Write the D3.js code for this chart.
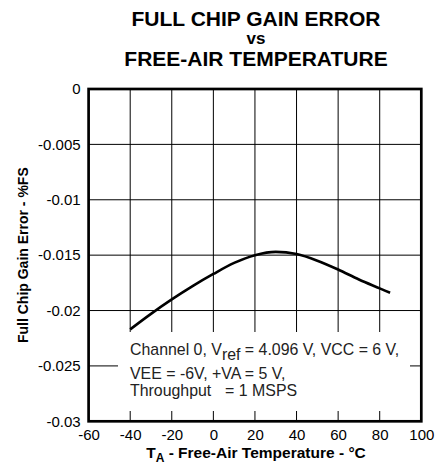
<!DOCTYPE html>
<html>
<head>
<meta charset="utf-8">
<script src="https://cdn.jsdelivr.net/npm/d3@7"></script>
<style>
  html, body { margin: 0; padding: 0; background: #fff; }
  svg { display: block; font-family: "Liberation Sans", Arial, Helvetica, sans-serif; }
  .note { white-space: pre; }
</style>
</head>
<body>
<svg id="chart" width="444" height="464"></svg>
<script>
// Gain error of the full chip (%FS) versus free-air temperature (°C)
const temperatures = [-40, -30, -20, -10, 0, 10, 20, 30, 40, 50, 60, 70, 80, 85];
const gainError = [-0.0217, -0.0203, -0.0190, -0.0178, -0.0167, -0.0157, -0.0150, -0.0147,
                   -0.0149, -0.0155, -0.0163, -0.0172, -0.0180, -0.0184];

const xTicks = [-60, -40, -20, 0, 20, 40, 60, 80, 100];
const xTickLabels = ["-60", "-40", "-20", "0", "20", "40", "60", "80", "100"];
const yTicks = [0, -0.005, -0.01, -0.015, -0.02, -0.025, -0.03];
const yTickLabels = ["0", "-0.005", "-0.01", "-0.015", "-0.02", "-0.025", "-0.03"];

const titleLines = ["FULL CHIP GAIN ERROR", "vs", "FREE-AIR TEMPERATURE"];
const noteLines = [
  [{ t: "Channel 0, V" }, { t: "ref", sub: true }, { t: " = 4.096 V, VCC = 6 V," }],
  [{ t: "VEE = -6V, +VA = 5 V," }],
  [{ t: "Throughput" }, { t: "  = 1 MSPS", gap: 5 }]
];

const svg = d3.select("#chart");
const plot = { left: 88.6, right: 421.3, top: 89, bottom: 421.3 };

const x = d3.scaleLinear().domain([-60, 100]).range([plot.left, plot.right]);
const y = d3.scaleLinear().domain([-0.03, 0]).range([plot.bottom, plot.top]);

// Title
svg.append("g").selectAll("text").data(titleLines).join("text")
  .attr("x", 256)
  .attr("y", (d, i) => [25.7, 43.6, 66.2][i])
  .attr("text-anchor", "middle")
  .attr("font-weight", "bold")
  .attr("font-size", (d, i) => i === 1 ? 17 : 21)
  .attr("fill", "#000")
  .text(d => d);

// Grid
const grid = svg.append("g").attr("stroke", "#000").attr("stroke-width", 1);
grid.selectAll("line.v").data(xTicks.slice(1, -1)).join("line")
  .attr("class", "v")
  .attr("x1", d => x(d)).attr("x2", d => x(d))
  .attr("y1", plot.top).attr("y2", plot.bottom);
grid.selectAll("line.h").data(yTicks.slice(1, -1)).join("line")
  .attr("class", "h")
  .attr("x1", plot.left).attr("x2", plot.right)
  .attr("y1", d => y(d)).attr("y2", d => y(d));

// Axes (labels only; frame drawn separately)
const xAxis = d3.axisBottom(x).tickValues(xTicks).tickSize(0).tickPadding(8)
  .tickFormat((d, i) => xTickLabels[i]);
const gx = svg.append("g").attr("transform", `translate(0,${plot.bottom})`).call(xAxis);
gx.select(".domain").remove();
gx.selectAll("text").attr("font-size", 15).attr("font-family", null).attr("fill", "#000");

const yAxis = d3.axisLeft(y).tickValues(yTicks).tickSize(0).tickPadding(8)
  .tickFormat((d, i) => yTickLabels[i]);
const gy = svg.append("g").attr("transform", `translate(${plot.left},0)`).call(yAxis);
gy.select(".domain").remove();
gy.selectAll("text").attr("font-size", 15).attr("font-family", null).attr("fill", "#000");

// Curve
const line = d3.line()
  .x((d, i) => x(temperatures[i]))
  .y(d => y(d))
  .curve(d3.curveMonotoneX);
svg.append("path")
  .datum(gainError)
  .attr("d", line)
  .attr("fill", "none")
  .attr("stroke", "#000")
  .attr("stroke-width", 2.6)
  .attr("stroke-linejoin", "round");

// Condition note with white background
svg.append("rect")
  .attr("x", 118).attr("y", 332)
  .attr("width", 292).attr("height", 79)
  .attr("fill", "#fff");
const note = svg.append("text")
  .attr("class", "note")
  .attr("font-size", 15.9)
  .attr("fill", "#222");
noteLines.forEach((parts, i) => {
  const baseY = [355, 378.5, 396][i];
  let first = true;
  parts.forEach(p => {
    const ts = note.append("tspan").text(p.t);
    if (first) { ts.attr("x", 130).attr("y", baseY); first = false; }
    else { ts.attr("y", p.sub ? baseY + 5 : baseY); }
    if (p.gap) ts.attr("dx", p.gap);
  });
});

// Frame
svg.append("rect")
  .attr("x", plot.left).attr("y", plot.top)
  .attr("width", plot.right - plot.left).attr("height", plot.bottom - plot.top)
  .attr("fill", "none").attr("stroke", "#000").attr("stroke-width", 2.7);

// Axis titles
const xTitle = svg.append("text")
  .attr("x", 256).attr("y", 457.5)
  .attr("text-anchor", "middle")
  .attr("font-weight", "bold").attr("font-size", 15.5).attr("fill", "#000");
xTitle.append("tspan").text("T");
xTitle.append("tspan").attr("font-size", 12).attr("dy", 4).text("A");
xTitle.append("tspan").attr("dy", -4).text(" - Free-Air Temperature - °C");

svg.append("text")
  .attr("transform", `translate(28,${(plot.top + plot.bottom) / 2}) rotate(-90)`)
  .attr("text-anchor", "middle")
  .attr("font-weight", "bold").attr("font-size", 14).attr("fill", "#000")
  .text("Full Chip Gain Error - %FS");
</script>
</body>
</html>
